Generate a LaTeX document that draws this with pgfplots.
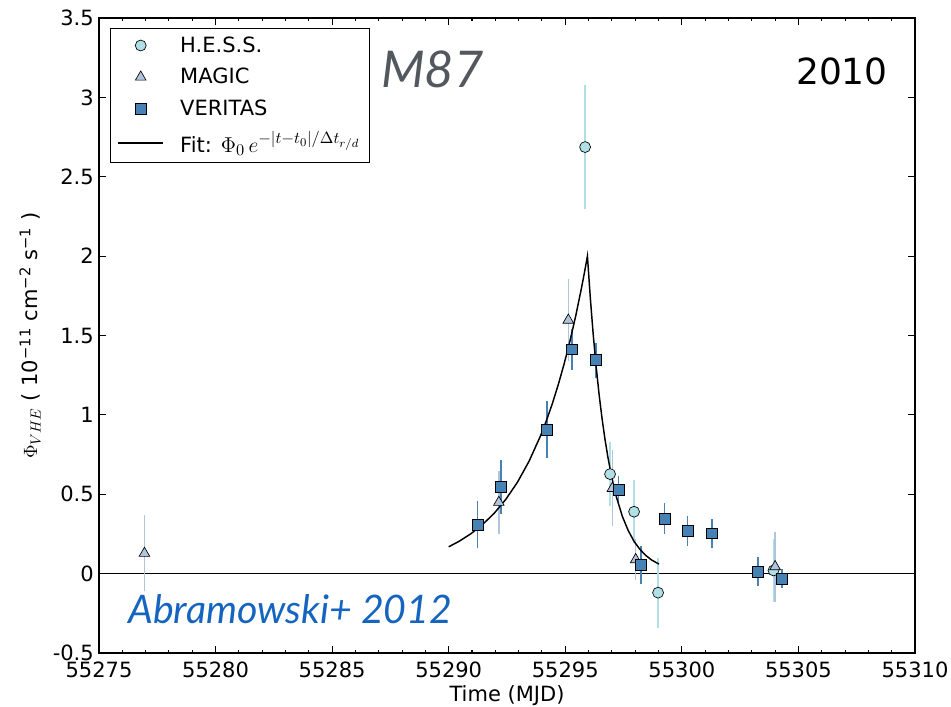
\documentclass[border=0pt]{standalone}
\usepackage{graphicx}
\usepackage{pgfplots}
\pgfplotsset{compat=1.18}
\usepackage{fontspec}
\setmainfont{DejaVu Sans}
\newfontfamily\lato{Lato}
\definecolor{hess}{HTML}{B0E0E6}
\definecolor{magic}{HTML}{B0C4DE}
\definecolor{veritas}{HTML}{4682B4}
\definecolor{mgray}{HTML}{53585F}
\definecolor{ablue}{HTML}{1565C0}
\pgfplotsset{fitlegend/.style={legend image code/.code={\draw[##1] (-0.3cm,0cm) -- (0.9cm,0cm);}}}
\begin{document}
\begin{tikzpicture}
\begin{axis}[
  at={(0,0)}, anchor=south west,
  scale only axis, width=612pt, height=476.25pt,
  xmin=55275, xmax=55310, ymin=-0.5, ymax=3.5,
  scaled x ticks=false, scaled y ticks=false,
  xtick={55275,55280,55285,55290,55295,55300,55305,55310},
  xticklabels={55275,55280,55285,55290,55295,55300,55305,55310},
  ytick={-0.5,0,0.5,1,1.5,2,2.5,3,3.5},
  yticklabels={-0.5,0,0.5,1,1.5,2,2.5,3,3.5},
  minor x tick num=4,
  tick align=inside,
  major tick length=5.25pt, minor tick length=2.6pt,
  every tick/.style={black, line width=0.8pt},
  axis line style={line width=1.1pt},
  tick label style={font=\fontsize{15.75}{18}\selectfont, inner sep=0pt},
  xticklabel style={yshift=-6.75pt},
  yticklabel style={xshift=-3.75pt},
  xlabel={Time (MJD)},
  xlabel style={at={(axis description cs:0.5,-0.0767)}, anchor=base, font=\fontsize{15.75}{18}\selectfont},
  ylabel={$\Phi_{VHE}$ ( 10\textsuperscript{−11} cm\textsuperscript{−2} s\textsuperscript{−1} )},
  ylabel style={at={(axis description cs:-0.0846,0.5)}, anchor=center, font=\fontsize{15.75}{18}\selectfont},
  legend style={at={(rel axis cs:0.0135,0.984)}, anchor=north west, draw=black, line width=0.8pt,
    font=\fontsize{15.75}{18}\selectfont, row sep=6.5pt, column sep=10pt, inner xsep=5pt, inner ysep=4pt,
    cells={anchor=west}},
  legend cell align=left,
  clip=false,
]
\addplot[forget plot, black, line width=1.1pt] coordinates {(55275,0) (55310,0)};

\addplot[only marks, mark=*, mark size=4.1pt, mark options={fill=hess, draw=black, line width=0.5pt},
  error bars/.cd, y dir=both, y explicit, error mark=none,
  error bar style={color=hess, line width=1.2pt}]
  coordinates {
  (55295.85,2.687) +- (0,0.39)
  (55296.92,0.627) +- (0,0.20)
  (55297.95,0.390) +- (0,0.20)
  (55298.98,-0.120) +- (0,0.22)
  (55303.93,0.020) +- (0,0.20)
  };
\addlegendentry{H.E.S.S.}

\addplot[only marks, mark=triangle*, mark size=4.6pt, mark options={fill=magic, draw=black, line width=0.5pt},
  error bars/.cd, y dir=both, y explicit, error mark=none,
  error bar style={color=magic, line width=1.2pt}]
  coordinates {
  (55276.95,0.128) +- (0,0.24)
  (55292.15,0.449) +- (0,0.20)
  (55295.13,1.597) +- (0,0.26)
  (55297.02,0.537) +- (0,0.24)
  (55298.02,0.088) +- (0,0.13)
  (55304.00,0.044) +- (0,0.22)
  };
\addlegendentry{MAGIC}

\addplot[only marks, mark=square*, mark size=4.1pt, mark options={fill=veritas, draw=black, line width=0.5pt},
  error bars/.cd, y dir=both, y explicit, error mark=none,
  error bar style={color=veritas, line width=1.2pt}]
  coordinates {
  (55291.24,0.310) +- (0,0.15)
  (55292.23,0.544) +- (0,0.17)
  (55294.22,0.906) +- (0,0.18)
  (55295.30,1.413) +- (0,0.13)
  (55296.31,1.345) +- (0,0.11)
  (55297.28,0.527) +- (0,0.09)
  (55298.24,0.054) +- (0,0.12)
  (55299.25,0.348) +- (0,0.10)
  (55300.24,0.268) +- (0,0.095)
  (55301.28,0.254) +- (0,0.09)
  (55303.26,0.012) +- (0,0.093)
  (55304.30,-0.032) +- (0,0.06)
  };
\addlegendentry{VERITAS}

\addplot[black, line width=1.1pt, no marks, fitlegend]
  coordinates {
  (55290.00,0.169) (55290.45,0.204) (55290.95,0.251) (55291.45,0.309)
  (55291.95,0.380) (55292.45,0.468) (55292.95,0.576) (55293.45,0.709)
  (55293.95,0.872) (55294.20,0.968) (55294.45,1.073) (55294.70,1.191)
  (55294.95,1.321) (55295.20,1.465) (55295.45,1.625) (55295.70,1.803)
  (55295.825,1.899) (55295.95,2.000) (55296.075,1.734) (55296.20,1.503)
  (55296.325,1.303) (55296.45,1.129) (55296.575,0.979) (55296.70,0.849)
  (55296.825,0.736) (55296.95,0.638) (55297.075,0.553) (55297.20,0.479)
  (55297.45,0.360) (55297.70,0.271) (55297.95,0.203) (55298.20,0.153)
  (55298.45,0.115) (55298.70,0.086) (55299.02,0.060)
  };
\addlegendentry{Fit: \scalebox{1.12}{$\Phi_0\, e^{-|t-t_0|/\Delta t_{r/d}}$}}

\node[anchor=base west, inner sep=0pt, text=mgray, font=\lato\itshape\fontsize{38}{40}\selectfont]
  at (rel axis cs:0.3456,0.891) {M87};
\node[anchor=base west, inner sep=0pt, font=\fontsize{27}{29}\selectfont]
  at (rel axis cs:0.854,0.8945) {2010};
\node[anchor=base west, inner sep=0pt, text=ablue, font=\lato\itshape\fontsize{29.5}{32}\selectfont]
  at (rel axis cs:0.0355,0.0472) {Abramowski+ 2012};
\end{axis}
\pgfresetboundingbox
\path[use as bounding box] (-74.25pt,-40.5pt) rectangle (639pt,489.75pt);
\end{tikzpicture}
\end{document}
